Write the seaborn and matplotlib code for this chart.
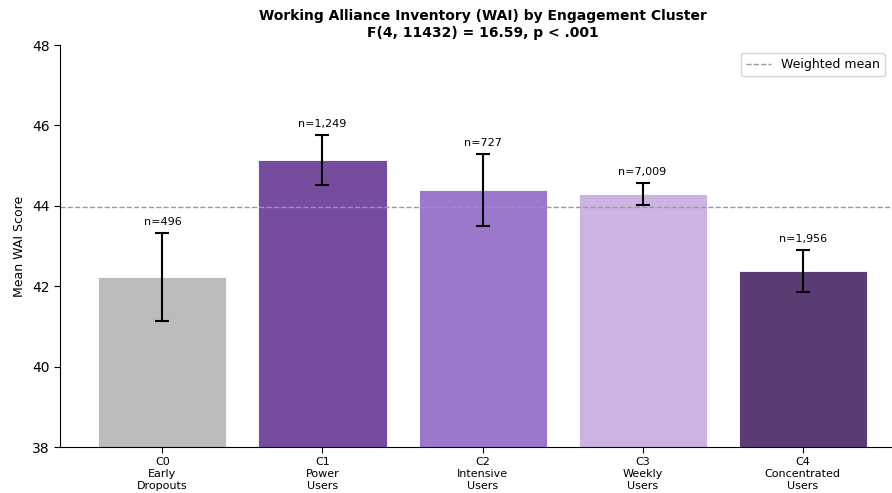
import numpy as np
import pandas as pd
import matplotlib
matplotlib.use("Agg")
import matplotlib.pyplot as plt
import seaborn as sns

# data
clusters = ["C0\nEarly\nDropouts", "C1\nPower\nUsers", "C2\nIntensive\nUsers",
            "C3\nWeekly\nUsers", "C4\nConcentrated\nUsers"]
means = [42.23, 45.14, 44.40, 44.30, 42.38]
ci = [1.10, 0.63, 0.90, 0.27, 0.53]
counts = [496, 1249, 727, 7009, 1956]
colors = ["#bbbbbb", "#764c9e", "#9b78cc", "#cbb4e2", "#5a3c75"]

df = pd.DataFrame({"cluster": clusters, "mean": means, "ci": ci, "n": counts})
wmean = np.average(df["mean"], weights=df["n"])

sns.set_style("white")
plt.rcParams.update({"text.color": "black", "axes.labelcolor": "black",
                     "xtick.color": "black", "ytick.color": "black",
                     "axes.edgecolor": "black"})
fig = plt.figure(figsize=(8.92, 4.93), dpi=100)
ax = fig.add_axes([0.0673, 0.0933, 0.9473, 0.8154])

sns.barplot(data=df, x="cluster", y="mean", hue="cluster", palette=colors,
            saturation=1, legend=False, width=0.8, edgecolor="white",
            linewidth=0.6, ax=ax)
ax.errorbar(np.arange(len(df)), df["mean"], yerr=df["ci"], fmt="none",
            ecolor="black", elinewidth=1.5, capsize=5, capthick=1.5, zorder=3)

for i, row in df.iterrows():
    ax.text(i, row["mean"] + row["ci"] + 0.15, f"n={row['n']:,}",
            ha="center", va="bottom", fontsize=8)

ax.axhline(wmean, color="#999999", linestyle="--", linewidth=1, label="Weighted mean")
ax.legend(loc="upper right", bbox_to_anchor=(0.999, 0.905), bbox_transform=fig.transFigure,
          fontsize=9, frameon=True)

ax.set_ylim(38, 48)
ax.set_xlim(-0.64, 4.64)
ax.set_yticks([38, 40, 42, 44, 46, 48])
ax.tick_params(axis="y", labelsize=10, left=True, length=4)
ax.tick_params(axis="x", labelsize=8, bottom=True, length=4)
ax.set_xlabel("")
ax.set_ylabel("Mean WAI Score", fontsize=9)
ax.set_title("Working Alliance Inventory (WAI) by Engagement Cluster\nF(4, 11432) = 16.59, p < .001",
             fontsize=10, fontweight="bold", pad=6)
sns.despine(ax=ax)

fig.savefig("out.png", dpi=100)
